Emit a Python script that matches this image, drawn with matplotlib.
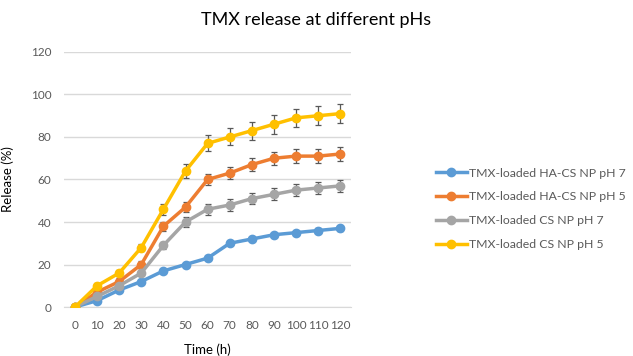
import matplotlib.pyplot as plt
from matplotlib.lines import Line2D

plt.rcParams['font.family'] = ['Lato', 'DejaVu Sans']

time_h = [0, 10, 20, 30, 40, 50, 60, 70, 80, 90, 100, 110, 120]

hacs_ph7 = [0, 3, 8, 12, 17, 20, 23, 30, 32, 34, 35, 36, 37]
hacs_ph7_err = [0, 0.5, 0.5, 0.6, 0.6, 0.7, 0.8, 0.9, 0.9, 1.0, 1.0, 1.0, 1.0]

hacs_ph5 = [0, 7, 12, 20, 38, 47, 60, 63, 67, 70, 71, 71, 72]
hacs_ph5_err = [0, 1.2, 1.5, 1.8, 2.2, 2.5, 2.8, 3.0, 3.0, 3.0, 3.2, 3.2, 3.2]

cs_ph7 = [0, 5, 10, 16, 29, 40, 46, 48, 51, 53, 55, 56, 57]
cs_ph7_err = [0, 1.0, 1.2, 1.5, 1.8, 2.2, 2.6, 2.6, 2.6, 2.8, 2.8, 2.8, 2.8]

cs_ph5 = [0, 10, 16, 28, 46, 64, 77, 80, 83, 86, 89, 90, 91]
cs_ph5_err = [0, 1.2, 1.5, 1.8, 2.5, 3.2, 3.8, 4.0, 4.2, 4.4, 4.4, 4.4, 4.5]

series = [
    ('TMX-loaded HA-CS NP pH 7', hacs_ph7, hacs_ph7_err, '#5B9BD5'),
    ('TMX-loaded HA-CS NP pH 5', hacs_ph5, hacs_ph5_err, '#ED7D31'),
    ('TMX-loaded CS NP pH 7', cs_ph7, cs_ph7_err, '#A5A5A5'),
    ('TMX-loaded CS NP pH 5', cs_ph5, cs_ph5_err, '#FFC000'),
]

fig = plt.figure(figsize=(6.33, 3.56), dpi=100)
ax = fig.add_axes([0.101, 0.1376, 0.454, 0.7164])

handles = []
for label, vals, err, col in series:
    ax.errorbar(time_h, vals, yerr=err, color=col, marker='o', markersize=6,
                linewidth=2.5, ecolor='#595959', elinewidth=0.9, capsize=2.5,
                capthick=0.9, zorder=3)
    handles.append(Line2D([], [], color=col, marker='o', markersize=6,
                          linewidth=2.5, label=label))

ax.set_xlim(-5, 125)
ax.set_ylim(0, 120)
ax.set_xticks(time_h)
ax.set_yticks(range(0, 121, 20))
ax.grid(axis='y', color='#D9D9D9', linewidth=1)
ax.set_axisbelow(True)
for s in ['top', 'right', 'left']:
    ax.spines[s].set_visible(False)
ax.spines['bottom'].set_color('#D9D9D9')
ax.tick_params(length=0, labelsize=8.5, colors='#595959', pad=9)

ax.set_xlabel('Time (h)', fontsize=9.5, labelpad=9)
ax.set_ylabel('Release (%)', fontsize=9.5, labelpad=12)
fig.suptitle('TMX release at different pHs', fontsize=13, y=0.965)

ax.legend(handles=handles, loc='center left', bbox_to_anchor=(1.255, 0.385),
          frameon=False, fontsize=8.8, labelcolor='#595959', handlelength=2.6,
          labelspacing=1.05, handletextpad=0.15)

fig.savefig('out.png', dpi=100)
